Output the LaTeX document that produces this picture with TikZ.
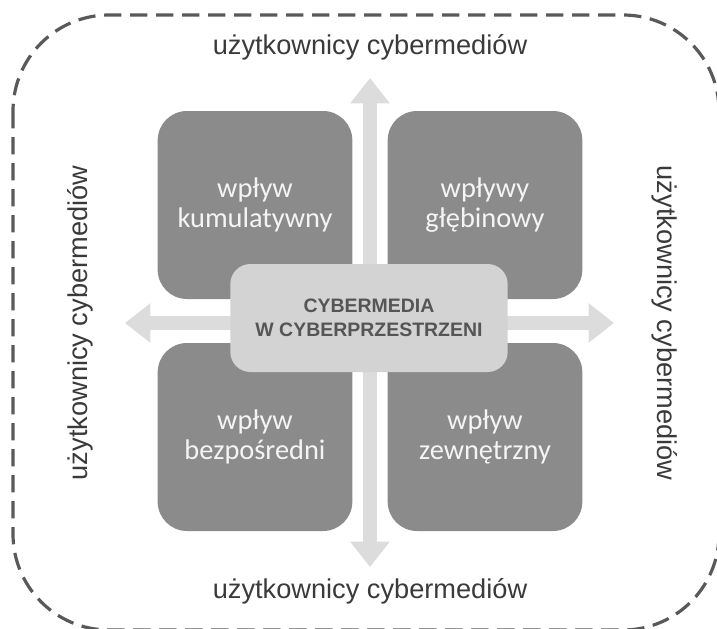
\documentclass[tikz,border=0pt]{standalone}
\usepackage{fontspec}
\setmainfont{Liberation Sans}
\newfontfamily\polefont{Carlito}
\usetikzlibrary{arrows.meta}

\definecolor{ramka}{HTML}{595959}
\definecolor{polefill}{HTML}{8B8B8B}
\definecolor{poletxt}{HTML}{F4F4F4}
\definecolor{srodekfill}{HTML}{D3D3D3}
\definecolor{srodektxt}{HTML}{555555}
\definecolor{strzalka}{HTML}{DCDCDC}
\definecolor{opis}{HTML}{3A3A3A}

\begin{document}
\begin{tikzpicture}[x=0.75pt,y=-0.75pt,
    pole/.style={fill=polefill, rounded corners=22pt, minimum width=146pt, minimum height=141pt,
        align=center, text=poletxt, font=\polefont\fontsize{21.3}{22.5}\selectfont},
    srodek/.style={fill=srodekfill, rounded corners=15pt, minimum width=208pt, minimum height=81pt,
        align=center, text=srodektxt, font=\bfseries\fontsize{14.6}{18}\selectfont},
    opisy/.style={text=opis, font=\fontsize{20.4}{24}\selectfont},
    strz/.style={strzalka, line width=10pt, {Triangle[width=28.5pt,length=19pt]}-{Triangle[width=28.5pt,length=19pt]}}]
        \useasboundingbox (0,0) rectangle (717,628);
        \clip (0,0) rectangle (717,628);

        % Ramka
        \draw[ramka, line width=2.4pt, dash pattern=on 13pt off 6.5pt, rounded corners=72pt]
            (13,15) rectangle (719,630);

        % Strzałki
        \coordinate (G) at (370,78);
        \coordinate (D) at (370,567);
        \coordinate (L) at (125,323);
        \coordinate (P) at (614,323);
        \draw[strz] (G) -- (D);
        \draw[strz] (L) -- (P);

        % Pola
        \node[pole] (A) at (255,205) {wpływ\\kumulatywny};
        \node[pole] (B) at (485,205) {wpływy\\głębinowy};
        \node[pole] (C) at (255,437) {wpływ\\bezpośredni};
        \node[pole] (E) at (485,437) {wpływ\\zewnętrzny};

        % Środek
        \node[srodek] (S) at (369,318) {CYBERMEDIA\\W CYBERPRZESTRZENI};

        % Podpisy
        \node[opisy] (og) at (370,47) {użytkownicy cybermediów};
        \node[opisy] (od) at (370,591) {użytkownicy cybermediów};
        \node[opisy, rotate=90] (ol) at (80,323) {użytkownicy cybermediów};
        \node[opisy, rotate=-90] (op) at (665,323) {użytkownicy cybermediów};
    \end{tikzpicture}
\end{document}
